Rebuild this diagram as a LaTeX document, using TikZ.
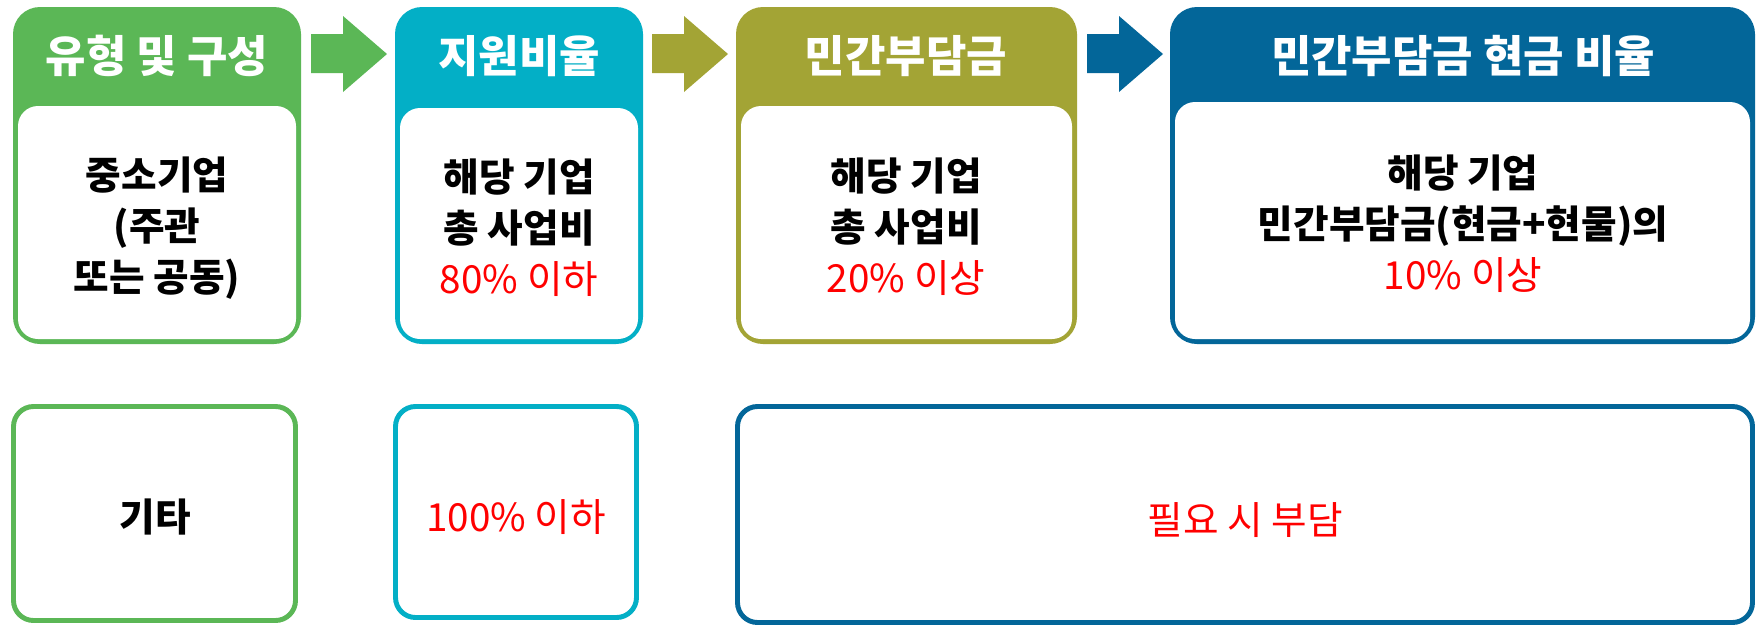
\documentclass[tikz,border=0pt]{standalone}
\usepackage{fontspec}
\setmainfont{Noto Sans CJK KR}
\usepackage{xcolor}
\usetikzlibrary{backgrounds}
\definecolor{typegreen}{HTML}{5BB756}
\definecolor{ratecyan}{HTML}{03AFC6}
\definecolor{shareolive}{HTML}{A3A435}
\definecolor{cashblue}{HTML}{036699}
\tikzstyle{unshaded}=[fill=white]
\tikzstyle{greenshading}=[fill=typegreen]
\tikzstyle{cyanshading}=[fill=ratecyan]
\tikzstyle{oliveshading}=[fill=shareolive]
\tikzstyle{blueshading}=[fill=cashblue]
\tikzstyle{outercard}=[rounded corners=5.4mm]
\tikzstyle{innercard}=[fill=white, rounded corners=4mm]
\tikzstyle{framecard}=[fill=white, line width=2.8pt, rounded corners=4mm]
\tikzstyle{headtext}=[text=white, font=\fontsize{25}{30}\selectfont\bfseries]
\tikzstyle{bodytext}=[align=center, font=\fontsize{22}{29}\selectfont\bfseries]
\newcommand{\redpart}[1]{\textcolor{red}{\mdseries #1}}

\begin{document}
\begin{tikzpicture}[x=0.2mm,y=-0.2mm]
		\useasboundingbox[unshaded] (0,0) rectangle (1763,625);
		% top cards
		\fill[greenshading,outercard] (13,7) rectangle (301,344);
		\fill[innercard] (18,106) rectangle (296,339);
		\fill[cyanshading,outercard] (395,7) rectangle (643,344);
		\fill[innercard] (400,108) rectangle (638,339);
		\fill[oliveshading,outercard] (736,7) rectangle (1077,344);
		\fill[innercard] (741,106) rectangle (1072,339);
		\fill[blueshading,outercard] (1170,7) rectangle (1755,344);
		\fill[innercard] (1175,102) rectangle (1750,339);
		% arrows
		\fill[greenshading] (311,34) -- (343,34) -- (343,16) -- (387,54) -- (343,92) -- (343,73) -- (311,73) -- cycle;
		\fill[oliveshading] (652,34) -- (684,34) -- (684,16) -- (728,54) -- (684,92) -- (684,73) -- (652,73) -- cycle;
		\fill[blueshading] (1087,34) -- (1119,34) -- (1119,16) -- (1163,54) -- (1119,92) -- (1119,73) -- (1087,73) -- cycle;
		% bottom cards
		\draw[framecard,draw=typegreen] (13.5,406.5) rectangle (295.5,620.5);
		\draw[framecard,draw=ratecyan] (395.5,406.5) rectangle (636.5,617.5);
		\draw[framecard,draw=cashblue] (737.5,406.5) rectangle (1752.5,622.5);
		% texts
		\node[headtext] (typehead) at (157,56) {유형 및 구성};
		\node[headtext] (ratehead) at (519,56) {지원비율};
		\node[headtext] (sharehead) at (906,56) {민간부담금};
		\node[headtext] (cashhead) at (1463,56) {민간부담금 현금 비율};
		\node[bodytext] (typebody) at (157,228) {중소기업\\(주관\\또는 공동)};
		\node[bodytext] (ratebody) at (519,228) {해당 기업\\총 사업비\\\redpart{80\% 이하}};
		\node[bodytext] (sharebody) at (906,227) {해당 기업\\총 사업비\\\redpart{20\% 이상}};
		\node[bodytext] (cashbody) at (1463,224) {해당 기업\\민간부담금(현금+현물)의\\\redpart{10\% 이상}};
		\node[bodytext] (typeother) at (155,517) {기타};
		\node[bodytext] (rateother) at (516,517) {\redpart{100\% 이하}};
		\node[bodytext] (shareother) at (1245,520) {\redpart{필요 시 부담}};
	\end{tikzpicture}
\end{document}
